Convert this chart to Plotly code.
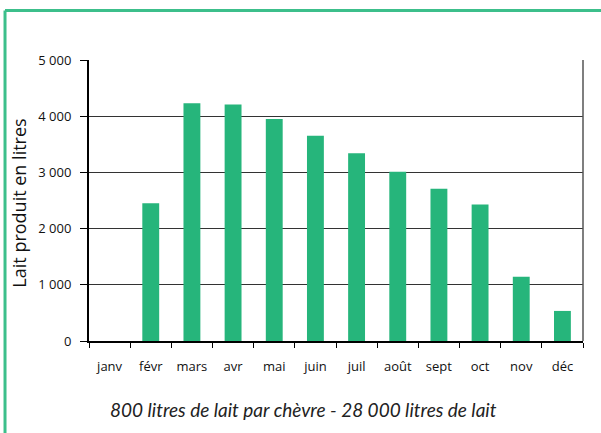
import plotly.graph_objects as go

months = ["janv", "févr", "mars", "avr", "mai", "juin", "juil", "août", "sept", "oct", "nov", "déc"]
milk = [0, 2450, 4230, 4210, 3950, 3650, 3340, 3010, 2710, 2430, 1145, 535]
ytick_vals = [0, 1000, 2000, 3000, 4000, 5000]
ytick_text = ["0", "1 000", "2 000", "3 000", "4 000", "5 000"]
y_title = "Lait produit en litres"
caption = "800 litres de lait par chèvre - 28 000 litres de lait"

bar_color = "#26b57b"
frame_color = "#3cbf8b"

fig = go.Figure()
fig.add_trace(go.Bar(
    x=months, y=milk, marker=dict(color=bar_color, line=dict(width=0)),
    hoverinfo="x+y",
))

fig.update_layout(
    width=601, height=433,
    margin=dict(l=89, r=18, t=60, b=92, autoexpand=False),
    paper_bgcolor="white", plot_bgcolor="white",
    bargap=0.59,
    showlegend=False,
    font=dict(family="Open Sans, Lato, sans-serif", color="#111"),
    xaxis=dict(
        type="category", showgrid=False, showline=True, linecolor="black", linewidth=2,
        ticks="outside", tickson="boundaries", ticklen=5, tickcolor="black", tickwidth=1,
        tickfont=dict(size=13, color="#111"), tickangle=0, ticklabelstandoff=12, fixedrange=True,
    ),
    yaxis=dict(
        range=[0, 5000], tickvals=ytick_vals, ticktext=ytick_text,
        showgrid=True, gridcolor="#333", gridwidth=1,
        showline=True, linecolor="black", linewidth=2,
        ticks="outside", ticklen=7, tickcolor="black", tickwidth=1,
        tickfont=dict(size=13, color="#111"), ticklabelstandoff=6, zeroline=False,
    ),
)

# y-axis title
fig.add_annotation(text=y_title, xref="paper", yref="paper", x=-0.141, y=0.49,
                   xanchor="center", yanchor="middle", textangle=-90, showarrow=False,
                   font=dict(size=18, color="#111"))

# plot right border
fig.add_shape(type="line", xref="paper", yref="paper", x0=1, x1=1, y0=0, y1=1,
              line=dict(color="#555", width=1.5))
# green frame
fig.add_shape(type="line", xref="paper", yref="paper", x0=-0.17, x1=1.1, y0=1.176, y1=1.176,
              line=dict(color=frame_color, width=3))
fig.add_shape(type="line", xref="paper", yref="paper", x0=-0.170, x1=-0.170, y0=-0.5, y1=1.176,
              line=dict(color=frame_color, width=3))

fig.add_annotation(text="<i>" + caption + "</i>", xref="paper", yref="paper", x=0.0385, y=-0.245,
                   xanchor="left", yanchor="middle", showarrow=False,
                   font=dict(size=19, color="#222", family="Lato, Open Sans, sans-serif"))

fig.write_html("out.html", config={"displayModeBar": False},
               post_script="document.body.style.margin='0';")
